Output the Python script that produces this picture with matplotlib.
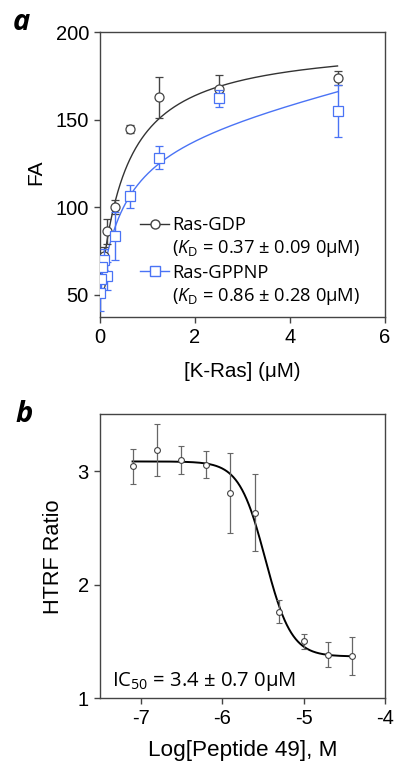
import numpy as np
import matplotlib
matplotlib.use("Agg")
import matplotlib.pyplot as plt
from matplotlib.lines import Line2D

plt.rcParams['font.family'] = ['Liberation Sans', 'DejaVu Sans']
plt.rcParams['mathtext.fontset'] = 'custom'
plt.rcParams['mathtext.rm'] = 'Open Sans'
plt.rcParams['mathtext.it'] = 'Open Sans:italic'
plt.rcParams['axes.unicode_minus'] = False

# panel a data: [K-Ras] (uM) vs FA
conc_a = [5, 2.5, 1.25, 0.625, 0.3125, 0.156, 0.078, 0.039, 0.0195, 0.0098]
gdp_fa = [173.6, 167.7, 162.7, 144.6, 100.0, 86.2, 72.0, 70.0, 58.7, 55.8]
gdp_err = [4, 7.5, 11.6, 2.3, 4, 7, 5, 4, 3, 3]
gppnp_fa = [154.8, 162.1, 128.3, 106.3, 83.5, 60.6, 70.0, 66.0, 59.0, 51.0]
gppnp_err = [15, 5, 6.7, 6.6, 13.5, 8, 6, 5, 6, 10]

# fit parameters
gdp_fit = dict(y0=50, bmax=145, kd=0.55)
gppnp_fit = dict(y0=50, bmax=94.5, kd=0.5, ns=6.0)

# panel b data: log[peptide] vs HTRF ratio
log_pep = [-7.1, -6.8, -6.5, -6.2, -5.9, -5.6, -5.3, -5.0, -4.7, -4.4]
htrf = [3.044, 3.186, 3.097, 3.058, 2.808, 2.634, 1.761, 1.50, 1.383, 1.372]
htrf_err = [0.155, 0.23, 0.125, 0.115, 0.35, 0.34, 0.1, 0.07, 0.11, 0.17]
ic50_fit = dict(top=3.085, bottom=1.368, logic50=-5.47, hill=2.7)

blue = '#4a73f5'
dark = '#333333'
spine_col = '#444444'

fig = plt.figure(figsize=(3.94, 7.63), dpi=100)

# ---------------- panel a ----------------
ax1 = fig.add_axes([0.2538, 0.585, 0.7234, 0.373])
xs = np.linspace(0, 5, 400)
ax1.plot(xs, gdp_fit['y0'] + gdp_fit['bmax'] * xs / (gdp_fit['kd'] + xs),
         color=dark, lw=1.0, zorder=2)
ax1.plot(xs, gppnp_fit['y0'] + gppnp_fit['bmax'] * xs / (gppnp_fit['kd'] + xs)
         + gppnp_fit['ns'] * xs, color=blue, lw=1.0, zorder=2)

ax1.errorbar(conc_a, gdp_fa, yerr=gdp_err, fmt='o', ms=6.5, mfc='white',
             mec='#444444', mew=0.9, ecolor='#444444', elinewidth=1.0,
             capsize=3, capthick=1.0, zorder=3)
ax1.errorbar(conc_a, gppnp_fa, yerr=gppnp_err, fmt='s', ms=6.5, mfc='white',
             mec=blue, mew=0.9, ecolor=blue, elinewidth=1.0,
             capsize=3, capthick=1.0, zorder=4)

ax1.set_xlim(0, 6)
ax1.set_ylim(37.5, 200)
ax1.set_xticks([0, 2, 4, 6])
ax1.set_yticks([50, 100, 150, 200])
ax1.set_xlabel('[K-Ras] (μM)', fontsize=14.8)
ax1.set_ylabel('FA', fontsize=15)
ax1.xaxis.set_label_coords(0.5, -0.16)
ax1.yaxis.set_label_coords(-0.193, 0.508)

h1 = Line2D([], [], color=dark, lw=1.0, marker='o', ms=6.5, mfc='white', mec='#444444')
h2 = Line2D([], [], color=blue, lw=1.0, marker='s', ms=6.5, mfc='white', mec=blue)
blank = Line2D([], [], alpha=0)
ax1.legend([h1, blank, h2, blank],
           ['Ras-GDP', r'($K_\mathrm{D}$ = 0.37 ± 0.09 0μM)',
            'Ras-GPPNP', r'($K_\mathrm{D}$ = 0.86 ± 0.28 0μM)'],
           loc='upper left', bbox_to_anchor=(0.14, 0.352), frameon=False,
           borderpad=0, borderaxespad=0, handlelength=1.6, handletextpad=0.15,
           labelspacing=0.22, prop={'family': 'Open Sans', 'size': 13.2})

# ---------------- panel b ----------------
ax2 = fig.add_axes([0.2538, 0.0848, 0.7234, 0.3722])
xb = np.linspace(min(log_pep), max(log_pep), 400)
ax2.plot(xb, ic50_fit['bottom'] + (ic50_fit['top'] - ic50_fit['bottom'])
         / (1 + 10 ** ((xb - ic50_fit['logic50']) * ic50_fit['hill'])),
         color='black', lw=1.4, zorder=2)
ax2.errorbar(log_pep, htrf, yerr=htrf_err, fmt='o', ms=4.2, mfc='white',
             mec='#444444', mew=0.8, ecolor='#666666', elinewidth=0.9,
             capsize=2.3, capthick=0.9, zorder=3)
ax2.set_xlim(-7.5, -4)
ax2.set_ylim(1, 3.5)
ax2.set_xticks([-7, -6, -5, -4])
ax2.set_yticks([1, 2, 3])
ax2.set_xlabel('Log[Peptide 49], M', fontsize=16.2)
ax2.set_ylabel('HTRF Ratio', fontsize=15.7)
ax2.xaxis.set_label_coords(0.5, -0.148)
ax2.yaxis.set_label_coords(-0.128, 0.5)
ax2.text(0.041, 0.043, r'IC$_{50}$ = 3.4 ± 0.7 0μM', transform=ax2.transAxes,
         family='Open Sans', fontsize=14.6, ha='left', va='baseline')

for ax in (ax1, ax2):
    for s in ax.spines.values():
        s.set_color(spine_col)
        s.set_linewidth(1.0)
    ax.tick_params(direction='out', length=4.5, width=1.0, color=spine_col,
                   labelsize=14.5, pad=3.5)

fig.text(0.033, 0.9607, 'a', fontsize=21, fontweight='bold', style='italic',
         family='Open Sans', va='baseline')
fig.text(0.038, 0.4473, 'b', fontsize=21, fontweight='bold', style='italic',
         family='Open Sans', va='baseline')

fig.savefig('out.png', dpi=100)
